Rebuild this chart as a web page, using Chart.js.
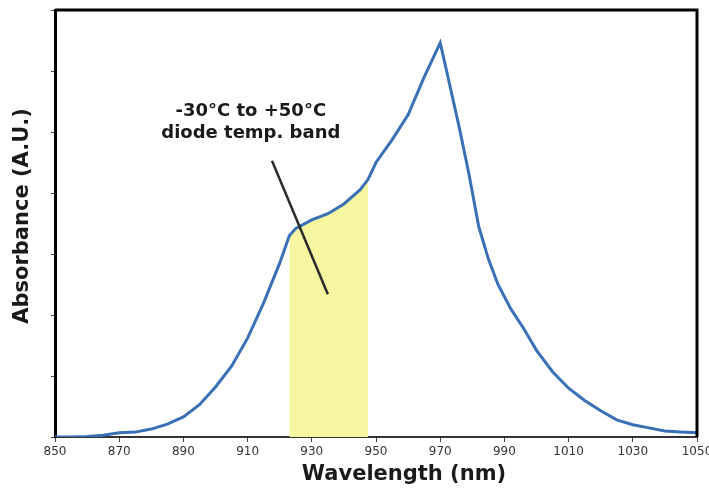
<!DOCTYPE html>
<html>
<head>
<meta charset="utf-8">
<script src="https://cdn.jsdelivr.net/npm/chart.js@4"></script>
<style>
  body { margin: 0; background: #fff; }
</style>
</head>
<body>
<canvas id="spectrum" width="709" height="491"></canvas>
<script>
// absorbance spectrum
const wavelengths = [850, 855, 860, 865, 870, 875, 880, 885, 890, 895,
  900, 905, 910, 915, 920, 923, 925, 930, 935, 940,
  945, 947.5, 950, 955, 960, 965, 970, 972, 976, 979,
  982, 985, 988, 992, 996, 1000, 1005, 1010, 1015, 1020,
  1025, 1030, 1035, 1040, 1045, 1050];
const absorbance = [0.0, 0.0, 0.01, 0.03, 0.07, 0.08, 0.13, 0.21, 0.33, 0.53,
  0.82, 1.16, 1.62, 2.2, 2.85, 3.3, 3.42, 3.56, 3.66, 3.82,
  4.05, 4.22, 4.5, 4.87, 5.28, 5.9, 6.46, 6.0, 5.06, 4.3,
  3.45, 2.92, 2.5, 2.1, 1.78, 1.42, 1.07, 0.8, 0.6, 0.43,
  0.28, 0.2, 0.15, 0.1, 0.08, 0.07];

// diode temperature band (-30 to +50 C)
const bandStart = 923;
const bandEnd = 947.5;

// pointer line from the label to the band
const pointerX = [917.6, 935];
const pointerY = [4.53, 2.34];

const labelLines = ['-30°C to +50°C', 'diode temp. band'];
const xTitle = 'Wavelength (nm)';
const yTitle = 'Absorbance (A.U.)';

const curve = wavelengths.map((w, i) => ({x: w, y: absorbance[i]}));
const band = curve.filter(p => p.x >= bandStart && p.x <= bandEnd);
const pointer = pointerX.map((x, i) => ({x: x, y: pointerY[i]}));

Chart.defaults.font.family = 'DejaVu Sans';

const decorations = {
  id: 'decorations',
  afterDraw(chart) {
    const {ctx, chartArea: a, scales} = chart;
    ctx.save();
    // top and right frame
    ctx.strokeStyle = '#000';
    ctx.lineWidth = 3;
    ctx.beginPath();
    ctx.moveTo(a.left, a.top);
    ctx.lineTo(a.right, a.top);
    ctx.lineTo(a.right, a.bottom);
    ctx.stroke();

    ctx.fillStyle = '#1a1a1a';
    ctx.textAlign = 'center';
    ctx.textBaseline = 'middle';
    // band label
    ctx.font = 'bold 18px "DejaVu Sans"';
    const lx = scales.x.getPixelForValue(911);
    ctx.fillText(labelLines[0], lx, scales.y.getPixelForValue(5.34));
    ctx.fillText(labelLines[1], lx, scales.y.getPixelForValue(4.98));

    // axis titles
    ctx.font = 'bold 21px "DejaVu Sans"';
    ctx.fillText(xTitle, 404, 475);
    ctx.translate(23, 216);
    ctx.rotate(-Math.PI / 2);
    ctx.fillText(yTitle, 0, 0);
    ctx.restore();
  }
};

new Chart(document.getElementById('spectrum').getContext('2d'), {
  type: 'line',
  data: {
    datasets: [
      {
        data: pointer,
        borderColor: '#2b2b2b',
        borderWidth: 2.5,
        pointRadius: 0,
        fill: false,
      },
      {
        data: curve,
        borderColor: '#3a70b5',
        borderWidth: 3,
        pointRadius: 0,
        tension: 0,
        fill: false,
      },
      {
        data: band,
        borderWidth: 0,
        borderColor: 'rgba(0,0,0,0)',
        backgroundColor: '#f7f7a1',
        pointRadius: 0,
        fill: 'origin',
      },
    ],
  },
  options: {
    responsive: false,
    animation: false,
    layout: { padding: { top: 10, right: 0, left: 0, bottom: 0 } },
    plugins: {
      legend: { display: false },
      tooltip: { enabled: false },
    },
    scales: {
      x: {
        type: 'linear',
        min: 850,
        max: 1050,
        ticks: {
          stepSize: 20,
          color: '#333',
          font: { size: 12 },
          padding: 3,
          maxRotation: 0,
          callback: (v) => String(v),
        },
        grid: { drawOnChartArea: false, tickLength: 5, color: '#444' },
        border: { color: '#333', width: 2 },
        afterFit: (scale) => {
          scale.height = 54;
          scale.paddingRight = 12;
          scale.paddingLeft = 0;
        },
      },
      y: {
        min: 0,
        max: 7,
        ticks: { stepSize: 1, display: false },
        grid: { drawOnChartArea: false, tickLength: 4, color: '#444' },
        border: { color: '#000', width: 3 },
        afterFit: (scale) => { scale.width = 55; },
      },
    },
  },
  plugins: [decorations],
});
</script>
</body>
</html>
